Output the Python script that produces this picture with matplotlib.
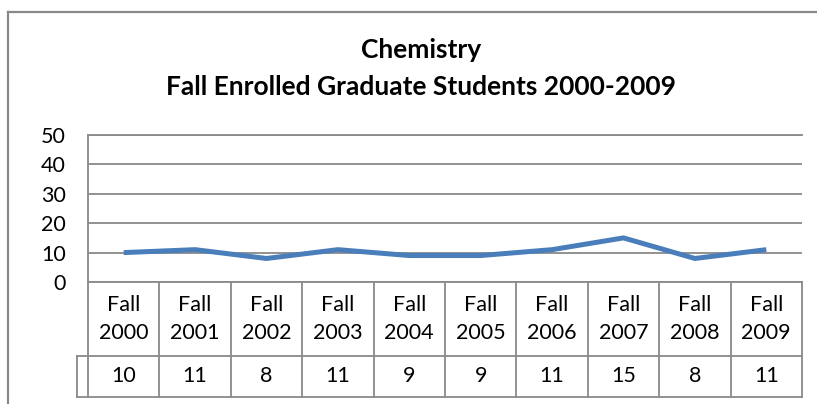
import matplotlib.pyplot as plt
from matplotlib.lines import Line2D

# data
categories = ['Fall\n2000', 'Fall\n2001', 'Fall\n2002', 'Fall\n2003', 'Fall\n2004',
              'Fall\n2005', 'Fall\n2006', 'Fall\n2007', 'Fall\n2008', 'Fall\n2009']
enrolled = [10, 11, 8, 11, 9, 9, 11, 15, 8, 11]
yticks = [0, 10, 20, 30, 40, 50]

W, H = 817, 404
grid_col = '#898989'
fsize = 15.5
plt.rcParams['font.family'] = ['Lato', 'DejaVu Sans']

fig = plt.figure(figsize=(W / 100, H / 100), dpi=100)

# outer chart frame: only top and left edges are inside the crop
fx, fy = 7.5 / W, 1 - 11.5 / H
fig.lines.append(Line2D([fx, 1.0], [fy, fy], transform=fig.transFigure,
                        color=grid_col, lw=1.6))
fig.lines.append(Line2D([fx, fx], [0.0, fy], transform=fig.transFigure,
                        color=grid_col, lw=1.6))

# plot area in pixels
x0, x1, ytop, ybot = 88, 802, 135, 282
ax = fig.add_axes([x0 / W, 1 - ybot / H, (x1 - x0) / W, (ybot - ytop) / H])

n = len(categories)
xs = list(range(n))
ax.plot(xs, enrolled, color='#4A7EBB', lw=3.6, solid_capstyle='butt', zorder=3)

ax.set_xlim(-0.5, n - 0.5)
ax.set_ylim(0, 50)
ax.set_yticks(yticks)
ax.yaxis.grid(True, color=grid_col, lw=1.3)
ax.set_axisbelow(True)
ax.tick_params(axis='y', length=0, pad=16, labelsize=fsize)
ax.tick_params(axis='x', length=0, labelbottom=False)
for s in ['top', 'right', 'bottom']:
    ax.spines[s].set_visible(False)
ax.spines['left'].set_color(grid_col)
ax.spines['left'].set_linewidth(1.3)
ax.axhline(50, color=grid_col, lw=1.3, clip_on=False)

# category row + data table below the plot
hpx = ybot - ytop
row1 = -(356 - ybot) / hpx
row2 = -(397 - ybot) / hpx
tr = ax.get_xaxis_transform()
leg_x = -0.5 - 11 / ((x1 - x0) / n)
kw = dict(transform=tr, color=grid_col, lw=1.3, clip_on=False)
ax.plot([-0.5, n - 0.5], [0, 0], **kw)
ax.plot([leg_x, n - 0.5], [row1, row1], **kw)
ax.plot([leg_x, n - 0.5], [row2, row2], **kw)
ax.plot([leg_x, leg_x], [row1, row2], **kw)
for i in range(n + 1):
    ax.plot([i - 0.5, i - 0.5], [0, row2], **kw)

for i, (lab, v) in enumerate(zip(categories, enrolled)):
    ax.text(i, row1 / 2, lab, transform=tr, ha='center', va='center',
            fontsize=fsize, linespacing=1.55)
    ax.text(i, (row1 + row2) / 2, str(v), transform=tr, ha='center',
            va='center', fontsize=fsize)

fig.text(421 / W, 1 - 50 / H, 'Chemistry', ha='center', va='center',
         fontsize=19, fontweight='bold')
fig.text(421 / W, 1 - 87 / H, 'Fall Enrolled Graduate Students 2000-2009',
         ha='center', va='center', fontsize=19, fontweight='bold')

fig.savefig('out.png', dpi=100)
